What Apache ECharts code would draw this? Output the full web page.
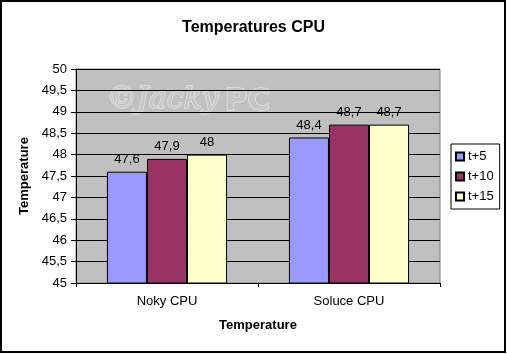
<!DOCTYPE html>
<html>
<head>
<meta charset="utf-8">
<script src="https://cdn.jsdelivr.net/npm/echarts@6/dist/echarts.min.js"></script>
<style>
    html, body { margin: 0; padding: 0; background: #fff; }
    #chart { width: 507px; height: 354px; }
</style>
</head>
<body>
<div id="chart"></div>
<script>
(function () {
    'use strict';

    var categories = ['Noky CPU', 'Soluce CPU'];
    var seriesNames = ['t+5', 't+10', 't+15'];
    var t5 = [47.6, 48.4];
    var t10 = [47.9, 48.7];
    var t15 = [48, 48.7];
    var colors = ['#9999ff', '#993366', '#ffffcc'];

    var FONT = '"Liberation Sans", Arial, sans-serif';

    //virgule pour les décimales
    function comma(v) {
        return String(v).replace('.', ',');
    }

    function bar(name, data, color) {
        return {
            name: name,
            type: 'bar',
            data: data,
            barGap: '0%',
            barCategoryGap: '34%',
            itemStyle: { color: color, borderColor: '#000', borderWidth: 1 },
            label: {
                show: true,
                position: 'top',
                distance: 6,
                color: '#000',
                fontFamily: FONT,
                fontSize: 13,
                formatter: function (p) { return comma(p.value); }
            },
            emphasis: { disabled: true }
        };
    }

    var chart = echarts.init(document.getElementById('chart'), null, { renderer: 'canvas' });
    chart.setOption({
        animation: false,
        backgroundColor: '#fff',
        title: {
            text: 'Temperatures CPU',
            left: 'center',
            top: 15,
            textStyle: { fontFamily: FONT, fontSize: 16, fontWeight: 'bold', color: '#000' }
        },
        legend: {
            orient: 'vertical',
            left: 451,
            top: 144,
            width: 46,
            padding: [6, 6, 6, 4],
            itemGap: 7,
            itemWidth: 8,
            itemHeight: 8,
            icon: 'rect',
            borderColor: '#000',
            borderWidth: 1,
            backgroundColor: '#fff',
            textStyle: { fontFamily: FONT, fontSize: 13, color: '#000', padding: [0, 0, 0, -1] },
            data: seriesNames
        },
        grid: {
            left: 76,
            right: 67,
            top: 69,
            bottom: 71,
            show: true,
            backgroundColor: '#c0c0c0',
            borderColor: '#808080',
            borderWidth: 1
        },
        xAxis: {
            type: 'category',
            data: categories,
            name: 'Temperature',
            nameLocation: 'middle',
            nameGap: 36,
            nameTextStyle: { fontFamily: FONT, fontSize: 13, fontWeight: 'bold', color: '#000' },
            axisLine: { lineStyle: { color: '#000', width: 1 } },
            axisTick: { show: true, length: 4, lineStyle: { color: '#000' } },
            axisLabel: { fontFamily: FONT, fontSize: 13, color: '#000', margin: 12 }
        },
        yAxis: {
            type: 'value',
            min: 45,
            max: 50,
            interval: 0.5,
            name: 'Temperature',
            nameLocation: 'middle',
            nameGap: 41,
            nameTextStyle: { fontFamily: FONT, fontSize: 13, fontWeight: 'bold', color: '#000' },
            axisLine: { show: true, lineStyle: { color: '#000', width: 1 } },
            axisTick: { show: true, length: 5, lineStyle: { color: '#000' } },
            axisLabel: { fontFamily: FONT, fontSize: 13, color: '#000', margin: 9, formatter: comma },
            splitLine: { lineStyle: { color: '#000', width: 1 } }
        },
        series: [
            bar(seriesNames[0], t5, colors[0]),
            bar(seriesNames[1], t10, colors[1]),
            bar(seriesNames[2], t15, colors[2])
        ],
        graphic: [
            {
                type: 'group',
                left: 106,
                top: 84,
                z: 5,
                silent: true,
                children: [
                    {
                        type: 'text',
                        x: 0,
                        y: 0,
                        style: {
                            text: '\u00a9Jacky',
                            font: 'italic 30px "DejaVu Serif", serif',
                            fill: '#c6c6c6',
                            stroke: '#e4e4e4',
                            lineWidth: 1.5
                        }
                    },
                    {
                        type: 'text',
                        x: 118,
                        y: 2,
                        style: {
                            text: 'PC',
                            font: 'bold 31px "DejaVu Sans", sans-serif',
                            fill: '#c6c6c6',
                            stroke: '#e4e4e4',
                            lineWidth: 1.5
                        }
                    }
                ]
            },
            {
                type: 'rect',
                silent: true,
                z: 10,
                shape: { x: 1, y: 1, width: 504, height: 351 },
                style: { fill: 'none', stroke: '#000', lineWidth: 2 }
            }
        ]
    });
})();
</script>
</body>
</html>
